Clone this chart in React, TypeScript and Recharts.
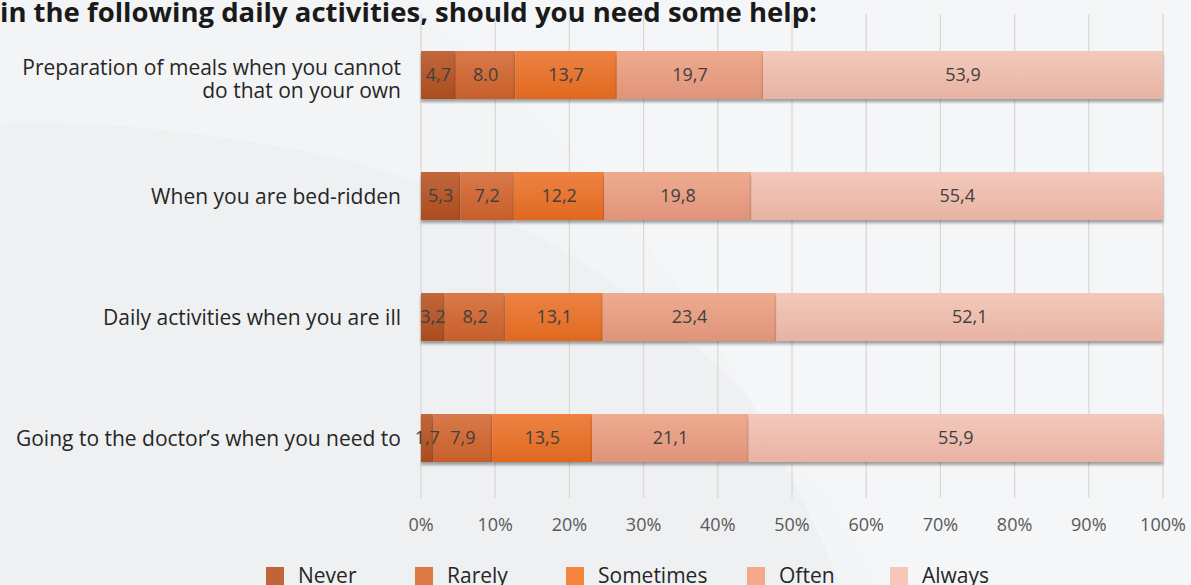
import React from 'react';
import { BarChart, Bar, XAxis, YAxis, CartesianGrid, LabelList, Legend } from 'recharts';

const categoryLines = [
  ['Preparation of meals when you cannot', 'do that on your own'],
  ['When you are bed-ridden'],
  ['Daily activities when you are ill'],
  ['Going to the doctor’s when you need to'],
];
const never = [4.7, 5.3, 3.2, 1.7];
const rarely = [8.0, 7.2, 8.2, 7.9];
const sometimes = [13.7, 12.2, 13.1, 13.5];
const often = [19.7, 19.8, 23.4, 21.1];
const always = [53.9, 55.4, 52.1, 55.9];
const neverLabels = ['4,7', '5,3', '3,2', '1,7'];
const rarelyLabels = ['8.0', '7,2', '8,2', '7,9'];
const sometimesLabels = ['13,7', '12,2', '13,1', '13,5'];
const oftenLabels = ['19,7', '19,8', '23,4', '21,1'];
const alwaysLabels = ['53,9', '55,4', '52,1', '55,9'];
const xTicks = [0, 0.1, 0.2, 0.3, 0.4, 0.5, 0.6, 0.7, 0.8, 0.9, 1];
const xTickLabels = ['0%', '10%', '20%', '30%', '40%', '50%', '60%', '70%', '80%', '90%', '100%'];
const seriesNames = ['Never', 'Rarely', 'Sometimes', 'Often', 'Always'];
const seriesKeys = ['never', 'rarely', 'sometimes', 'often', 'always'];
const legendColors = ['#c0643a', '#dc7a45', '#f5843c', '#f4a98a', '#f7c6b6'];
const gradTop = ['#c2673c', '#d9794a', '#ee8244', '#eeab90', '#f3c9bb'];
const gradBottom = ['#a94d1f', '#c75f2a', '#e0691f', '#e0947a', '#e8b3a3'];
const legendX = [266, 415, 566, 747, 890];

const title = 'in the following daily activities, should you need some help:';
const FONT = '"Open Sans", "Noto Sans", sans-serif';

const data = categoryLines.map((lines, i) => ({
  name: lines.join(' '),
  never: never[i],
  rarely: rarely[i],
  sometimes: sometimes[i],
  often: often[i],
  always: always[i],
  neverLabel: neverLabels[i],
  rarelyLabel: rarelyLabels[i],
  sometimesLabel: sometimesLabels[i],
  oftenLabel: oftenLabels[i],
  alwaysLabel: alwaysLabels[i],
}));

const YTick = (props: any) => {
  const { x, y, payload, index } = props;
  const lines = categoryLines[index] || [payload.value];
  const lh = 23;
  const start = y - ((lines.length - 1) * lh) / 2 + (lines.length > 1 ? 4 : 0);
  return (
    <text x={x} y={start} textAnchor="end" fill="#262626" fontSize={21} fontFamily={FONT} dominantBaseline="central">
      {lines.map((l: string, i: number) => (
        <tspan key={i} x={x} y={start + i * lh}>{l}</tspan>
      ))}
    </text>
  );
};

const ShadowRect = (props: any) => {
  const { x, y, width, height, fill } = props;
  if (!width || width <= 0) return null;
  return <rect x={x} y={y} width={width} height={height} fill={fill} filter="url(#barShadow)" />;
};

const LegendContent = () => (
  <div style={{ position: 'relative', width: 1191, height: 22 }}>
    {seriesNames.map((n, i) => (
      <div key={n} style={{ position: 'absolute', left: legendX[i], top: 0, display: 'flex', alignItems: 'flex-start' }}>
        <div style={{ width: 18, height: 18, marginTop: 4, background: legendColors[i] }} />
        <span style={{ marginLeft: 14, fontSize: 21, lineHeight: '24px', fontFamily: FONT, color: '#262626' }}>{n}</span>
      </div>
    ))}
  </div>
);

export default function App() {
  return (
    <div style={{ position: 'absolute', left: 0, top: 0, width: 1191, height: 585, overflow: 'hidden', background: '#eef0f2' }}>
      <svg width={1191} height={585} style={{ position: 'absolute', left: 0, top: 0 }}>
        <path d="M0,0 L1191,0 L1191,585 L880,585 C780,380 560,200 300,150 C180,128 80,120 0,123 Z" fill="#f3f4f5" />
        <path d="M430,20 C600,150 760,380 840,585 L1191,585 L1191,0 L420,0 Z" fill="#f5f6f7" opacity={0.8} />
      </svg>
      <div style={{ position: 'absolute', left: 0, top: -3, fontFamily: FONT, fontWeight: 700, fontSize: 27.5, color: '#1a1a1a', whiteSpace: 'nowrap', lineHeight: '30px' }}>
        {title}
      </div>
      <div style={{ position: 'absolute', left: 0, top: 0 }}>
        <BarChart
          width={1191}
          height={585}
          data={data}
          layout="vertical"
          stackOffset="expand"
          barSize={48}
          margin={{ top: 14, right: 28, left: 0, bottom: 0 }}
        >
          <defs>
            {seriesKeys.map((k, i) => (
              <linearGradient key={k} id={`grad-${k}`} x1="0" y1="0" x2="0" y2="1">
                <stop offset="0%" stopColor={gradTop[i]} />
                <stop offset="100%" stopColor={gradBottom[i]} />
              </linearGradient>
            ))}
            <filter id="barShadow" x="-5%" y="-20%" width="110%" height="160%">
              <feDropShadow dx="0" dy="3" stdDeviation="1.8" floodColor="#000" floodOpacity="0.35" />
            </filter>
          </defs>
          <CartesianGrid horizontal={false} vertical stroke="#d9d9d9" strokeWidth={1.3} />
          <XAxis
            type="number"
            domain={[0, 1]}
            ticks={xTicks}
            tickFormatter={(v: number) => xTickLabels[xTicks.indexOf(v)] ?? ''}
            axisLine={false}
            tickLine={false}
            tickSize={0}
            tickMargin={20}
            height={65}
            interval={0}
            tick={{ fill: '#595959', fontSize: 18, fontFamily: FONT }}
          />
          <YAxis
            type="category"
            dataKey="name"
            width={421}
            axisLine={false}
            tickLine={false}
            tickSize={0}
            tickMargin={20}
            interval={0}
            tick={<YTick />}
          />
          <Legend verticalAlign="bottom" height={22} content={<LegendContent />} wrapperStyle={{ left: 0, width: 1191 }} />
          {seriesKeys.map((k, i) => (
            <Bar
              key={k}
              dataKey={k}
              name={seriesNames[i]}
              stackId="a"
              fill={`url(#grad-${k})`}
              shape={<ShadowRect />}
              isAnimationActive={false}
            >
              <LabelList dataKey={`${k}Label`} position="center" fill="#404040" fontSize={18} fontFamily={FONT} />
            </Bar>
          ))}
        </BarChart>
      </div>
    </div>
  );
}
